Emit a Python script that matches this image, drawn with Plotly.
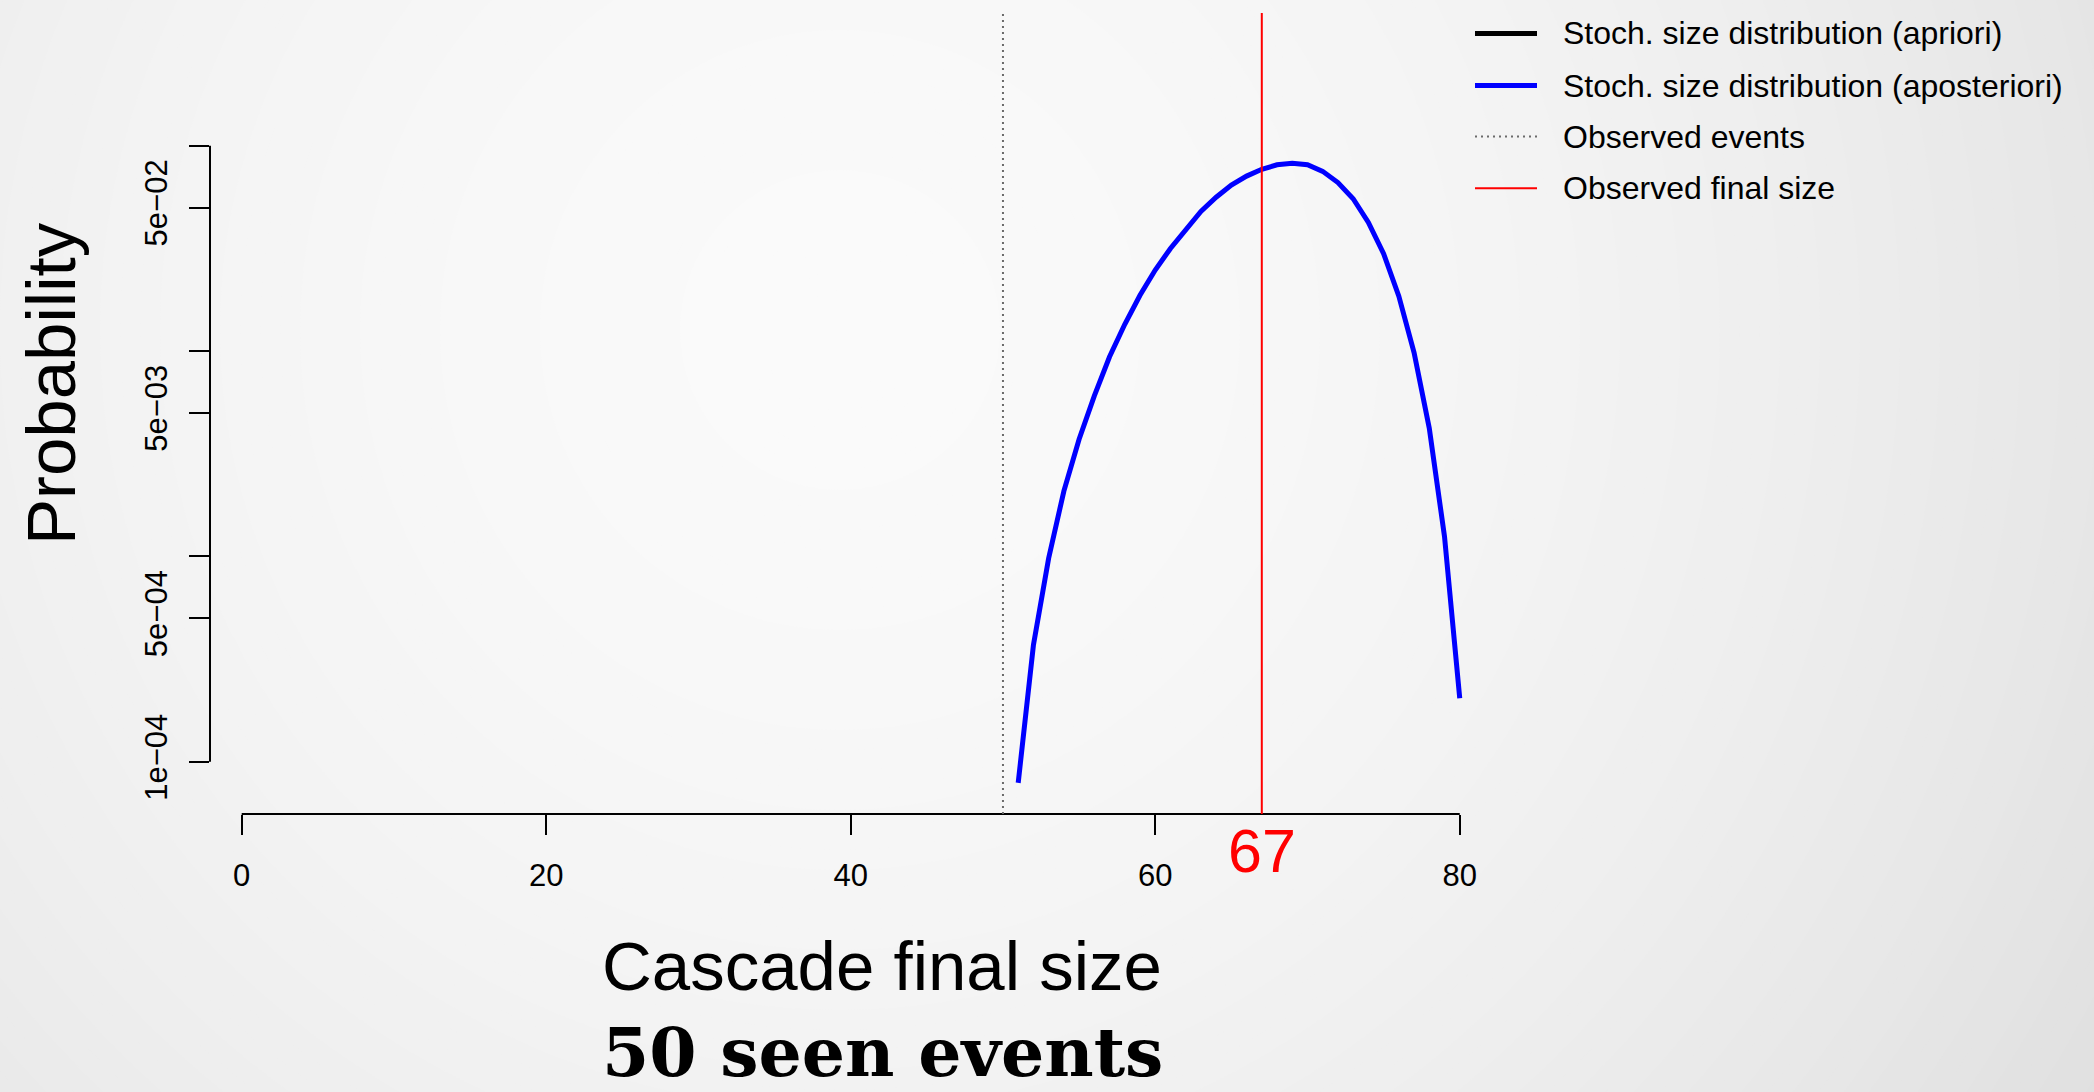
import math
import plotly.graph_objects as go

# Posterior (a posteriori) stochastic size distribution, cascade sizes 51..80
cascade_size = list(range(51, 81))
prob_aposteriori = [
    7.90e-5, 3.70e-4, 9.80e-4, 2.08e-3, 3.72e-3, 6.05e-3, 9.38e-3, 1.35e-2,
    1.87e-2, 2.48e-2, 3.16e-2, 3.89e-2, 4.78e-2, 5.61e-2, 6.43e-2, 7.11e-2,
    7.67e-2, 8.07e-2, 8.22e-2, 8.07e-2, 7.50e-2, 6.61e-2, 5.52e-2, 4.23e-2,
    2.98e-2, 1.85e-2, 9.84e-3, 4.21e-3, 1.25e-3, 2.04e-4,
]

observed_events = 50
observed_final_size = 67

x_ticks = [0, 20, 40, 60, 80]
y_ticks = [1e-4, 5e-4, 1e-3, 5e-3, 1e-2, 5e-2, 1e-1]
y_ticktext = ["1e\u221204", "5e\u221204", "", "5e\u221203", "", "5e\u221202", ""]

legend_labels = [
    "Stoch. size distribution (apriori)",
    "Stoch. size distribution (aposteriori)",
    "Observed events",
    "Observed final size",
]

x_label = "Cascade final size"
y_label = "Probability"
subtitle = "50 seen events"

# ---- page geometry (pixels) ----
FIG_W, FIG_H = 2094, 1092
L, R, T, B = 210, 1508, 13, 814
W, H = R - L, B - T

X_RANGE = [-2.082, 83.17]
Y_RANGE = [-4.254, -0.354]  # log10 units

SANS = "Liberation Sans, Arial, Helvetica, sans-serif"


def px_x(px):
    return (px - L) / W


def px_y(py):
    return (B - py) / H


def logy_to_paper(v):
    return (math.log10(v) - Y_RANGE[0]) / (Y_RANGE[1] - Y_RANGE[0])


fig = go.Figure()

fig.add_trace(go.Scatter(
    x=cascade_size, y=prob_aposteriori, mode="lines",
    line=dict(color="#0000ff", width=5),
    showlegend=False, hoverinfo="skip",
))

shapes = []

# soft radial background
cx, cy = 840, 330
r = 1520
while r > 0:
    c = 250 - 26 * min(1.0, (r / 1480)) ** 1.8
    g = int(round(c))
    shapes.append(dict(
        type="circle", xref="paper", yref="paper", layer="below",
        x0=px_x(cx - r), x1=px_x(cx + r), y0=px_y(cy + r), y1=px_y(cy - r),
        fillcolor=f"rgb({g},{g},{g})", line=dict(width=0),
    ))
    r -= 20

# axis lines spanning the outer ticks only
shapes.append(dict(type="line", xref="x", yref="paper",
                   x0=x_ticks[0], x1=x_ticks[-1], y0=0, y1=0,
                   line=dict(color="black", width=2)))
shapes.append(dict(type="line", xref="paper", yref="paper",
                   x0=0, x1=0, y0=logy_to_paper(y_ticks[0]),
                   y1=logy_to_paper(y_ticks[-1]),
                   line=dict(color="black", width=2)))

# observed events / observed final size markers
shapes.append(dict(type="line", xref="x", yref="paper",
                   x0=observed_events, x1=observed_events, y0=0, y1=1,
                   line=dict(color="#6a6a6a", width=2, dash="2px,4px")))
shapes.append(dict(type="line", xref="x", yref="paper",
                   x0=observed_final_size, x1=observed_final_size, y0=0, y1=1,
                   line=dict(color="#ff0000", width=2)))

# legend keys
legend_styles = [
    dict(color="black", width=5),
    dict(color="#0000ff", width=5),
    dict(color="#6a6a6a", width=2, dash="2px,4px"),
    dict(color="#ff0000", width=2),
]
legend_rows = [33.4, 85.5, 136.5, 188.3]
annotations = []
for label, style, yrow in zip(legend_labels, legend_styles, legend_rows):
    shapes.append(dict(type="line", xref="paper", yref="paper",
                       x0=px_x(1475), x1=px_x(1537), y0=px_y(yrow), y1=px_y(yrow),
                       line=style))
    annotations.append(dict(
        text=label, xref="paper", yref="paper", x=px_x(1561), y=px_y(yrow),
        xanchor="left", yanchor="middle", showarrow=False,
        font=dict(family=SANS, size=32, color="black"),
    ))

annotations += [
    dict(text=str(observed_final_size), xref="x", yref="paper",
         x=observed_final_size, y=px_y(851), xanchor="center", yanchor="middle",
         showarrow=False, font=dict(family=SANS, size=61, color="#ff0000")),
    dict(text=x_label, xref="paper", yref="paper", x=px_x(882), y=px_y(966),
         xanchor="center", yanchor="middle", showarrow=False,
         font=dict(family=SANS, size=69, color="black")),
    dict(text=y_label, xref="paper", yref="paper", x=px_x(51), y=px_y(384),
         xanchor="center", yanchor="middle", showarrow=False, textangle=-90,
         font=dict(family=SANS, size=69, color="black")),
    dict(text=f"<b>{subtitle}</b>", xref="paper", yref="paper", x=px_x(882),
         y=px_y(1052), xanchor="center", yanchor="middle", showarrow=False,
         font=dict(family="DejaVu Serif, serif", size=68, color="black")),
]

fig.update_layout(
    width=FIG_W, height=FIG_H,
    margin=dict(l=L, r=FIG_W - R, t=T, b=FIG_H - B, pad=0),
    paper_bgcolor="rgb(226,226,226)",
    plot_bgcolor="rgba(0,0,0,0)",
    showlegend=False,
    shapes=shapes,
    annotations=annotations,
    xaxis=dict(
        range=X_RANGE, tickvals=x_ticks, ticks="outside", ticklen=20,
        tickwidth=2, tickcolor="black", showline=False, showgrid=False,
        zeroline=False, ticklabelstandoff=14,
        tickfont=dict(family=SANS, size=31, color="black"),
    ),
    yaxis=dict(
        type="log", range=Y_RANGE, tickvals=y_ticks, ticktext=y_ticktext,
        tickangle=-90, ticks="outside", ticklen=20, tickwidth=2,
        tickcolor="black", showline=False, showgrid=False, zeroline=False,
        ticklabelstandoff=10,
        tickfont=dict(family=SANS, size=31, color="black"),
    ),
)

fig.write_html("out.html")
